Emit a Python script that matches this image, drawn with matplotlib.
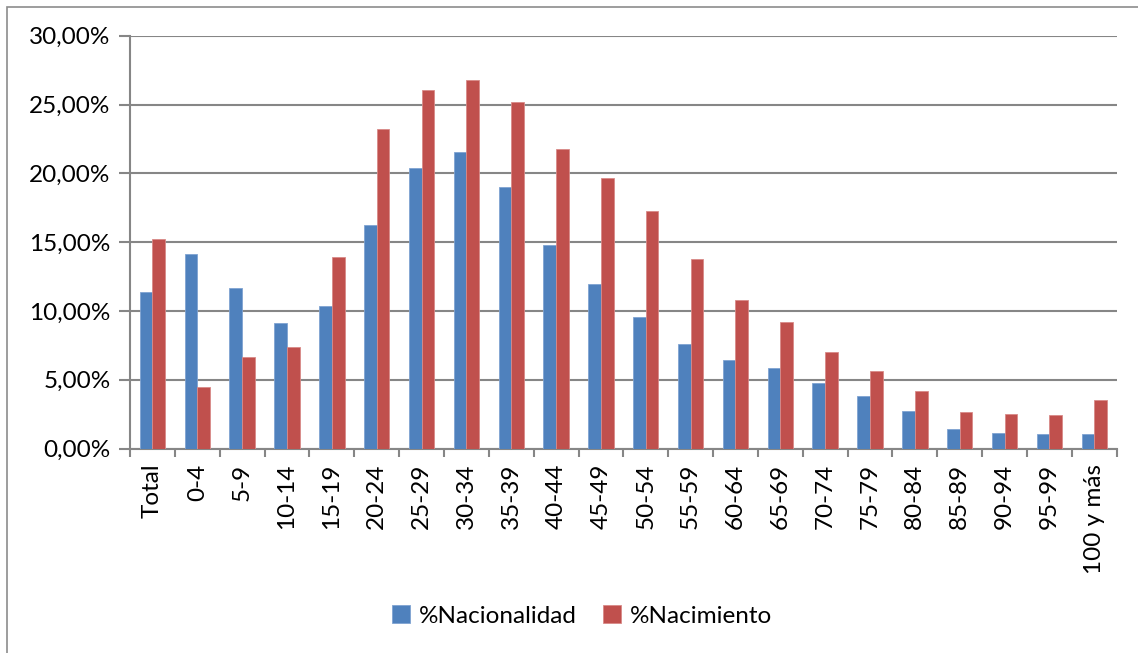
import matplotlib
matplotlib.use("Agg")
import matplotlib.pyplot as plt
import numpy as np
from matplotlib.patches import Rectangle
from matplotlib.ticker import FuncFormatter

categories = ["Total", "0-4", "5-9", "10-14", "15-19", "20-24", "25-29", "30-34",
              "35-39", "40-44", "45-49", "50-54", "55-59", "60-64", "65-69",
              "70-74", "75-79", "80-84", "85-89", "90-94", "95-99", "100 y más"]
nacionalidad = [11.39, 14.11, 11.68, 9.09, 10.33, 16.26, 20.41, 21.57, 19.03, 14.81,
                11.93, 9.57, 7.56, 6.40, 5.82, 4.75, 3.80, 2.76, 1.45, 1.11, 1.04, 1.09]
nacimiento = [15.20, 4.44, 6.66, 7.39, 13.94, 23.22, 26.06, 26.76, 25.21, 21.75,
              19.64, 17.24, 13.77, 10.81, 9.16, 7.00, 5.60, 4.19, 2.62, 2.49, 2.47, 3.51]
series_names = ["%Nacionalidad", "%Nacimiento"]

plt.rcParams['font.family'] = ['Lato', 'DejaVu Sans']
FS = 17.5

W, H = 1138, 653
fig = plt.figure(figsize=(W / 100, H / 100), dpi=100)
fig.patch.set_facecolor("white")

# outer chart frame (partially cropped)
fig.patches.append(Rectangle((7 / W, -0.1), 1.2, (H - 7) / H + 0.1, transform=fig.transFigure,
                             fill=False, edgecolor="#8c8c8c", linewidth=1.2))

left, right, top, bottom = 130, 1116.7, 35.7, 448.5
ax = fig.add_axes([left / W, 1 - bottom / H, (right - left) / W, (bottom - top) / H])

x = np.arange(len(categories))
w = 0.283
blue = "#4F81BD"
red = "#C0504D"
ax.bar(x - w / 2, nacionalidad, width=w, color=blue, edgecolor="#7fa3d2", linewidth=0.6,
       label=series_names[0], zorder=3)
ax.bar(x + w / 2, nacimiento, width=w, color=red, edgecolor="#d98a88", linewidth=0.6,
       label=series_names[1], zorder=3)

ax.set_xlim(-0.5, len(categories) - 0.5)
ax.set_ylim(0, 30)
ax.set_yticks(np.arange(0, 30.01, 5))
ax.yaxis.set_major_formatter(FuncFormatter(lambda v, p: f"{v:.2f}".replace(".", ",") + "%"))
ax.yaxis.grid(True, color="#868686", linewidth=1.5, zorder=0)
ax.set_axisbelow(True)

ax.set_xticks(np.arange(-0.5, len(categories), 1.0), minor=False)
ax.set_xticklabels([])
ax.set_xticks(x, minor=True)
ax.set_xticklabels(categories, minor=True, rotation=90, va="top", ha="center", fontsize=FS)
ax.tick_params(axis="x", which="minor", length=0, pad=11)
ax.tick_params(axis="x", which="major", length=6, width=1.5, color="#868686")
ax.tick_params(axis="y", length=8, width=1.5, color="#868686", labelsize=FS, pad=6)

for s in ["top", "right"]:
    ax.spines[s].set_visible(False)
for s in ["left", "bottom"]:
    ax.spines[s].set_color("#868686")
    ax.spines[s].set_linewidth(1.5)

leg = fig.legend(loc="center", bbox_to_anchor=(582 / W, 1 - 616 / H), ncol=2, frameon=False,
                 fontsize=FS, handlelength=0.75, handleheight=0.75, columnspacing=1.1,
                 handletextpad=0.35)

fig.savefig("out.png", dpi=100)
